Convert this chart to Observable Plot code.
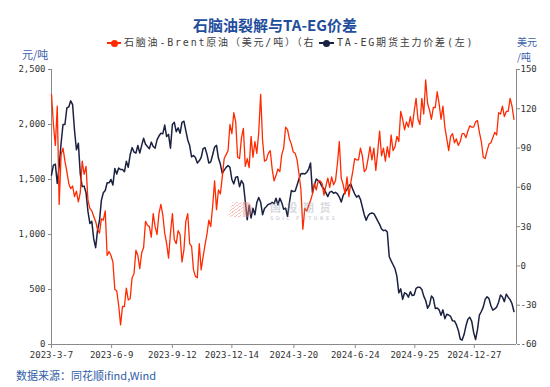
<!DOCTYPE html>
<html><head><meta charset="utf-8">
<script src="https://cdn.jsdelivr.net/npm/d3@7"></script>
<script src="https://cdn.jsdelivr.net/npm/@observablehq/plot@0.6"></script>
<style>
body{margin:0;background:#fff;}
#wrap{position:relative;width:550px;height:387px;overflow:hidden;font-family:"Noto Sans CJK SC","Noto Sans",sans-serif;background:#fff;}
#wrap svg{position:absolute;left:0;top:0;}
.abs{position:absolute;white-space:nowrap;line-height:1;}
</style></head><body><div id="wrap"></div>
<script>
// sampling dates (every 3 calendar days)
const dates = [
"2023-03-07","2023-03-10","2023-03-13","2023-03-16","2023-03-19","2023-03-22","2023-03-25","2023-03-28","2023-03-31",
"2023-04-03","2023-04-06","2023-04-09","2023-04-12","2023-04-15","2023-04-18","2023-04-21","2023-04-24","2023-04-27","2023-04-30",
"2023-05-03","2023-05-06","2023-05-09","2023-05-12","2023-05-15","2023-05-18","2023-05-21","2023-05-24","2023-05-27","2023-05-30",
"2023-06-02","2023-06-05","2023-06-08","2023-06-11","2023-06-14","2023-06-17","2023-06-20","2023-06-23","2023-06-26","2023-06-29",
"2023-07-02","2023-07-05","2023-07-08","2023-07-11","2023-07-14","2023-07-17","2023-07-20","2023-07-23","2023-07-26","2023-07-29",
"2023-08-01","2023-08-04","2023-08-07","2023-08-10","2023-08-13","2023-08-16","2023-08-19","2023-08-22","2023-08-25","2023-08-28","2023-08-31",
"2023-09-03","2023-09-06","2023-09-09","2023-09-12","2023-09-15","2023-09-18","2023-09-21","2023-09-24","2023-09-27","2023-09-30",
"2023-10-03","2023-10-06","2023-10-09","2023-10-12","2023-10-15","2023-10-18","2023-10-21","2023-10-24","2023-10-27","2023-10-30",
"2023-11-02","2023-11-05","2023-11-08","2023-11-11","2023-11-14","2023-11-17","2023-11-20","2023-11-23","2023-11-26","2023-11-29",
"2023-12-02","2023-12-05","2023-12-08","2023-12-11","2023-12-14","2023-12-17","2023-12-20","2023-12-23","2023-12-26","2023-12-29",
"2024-01-01","2024-01-04","2024-01-07","2024-01-10","2024-01-13","2024-01-16","2024-01-19","2024-01-22","2024-01-25","2024-01-28","2024-01-31",
"2024-02-03","2024-02-06","2024-02-09","2024-02-12","2024-02-15","2024-02-18","2024-02-21","2024-02-24","2024-02-27",
"2024-03-01","2024-03-04","2024-03-07","2024-03-10","2024-03-13","2024-03-16","2024-03-19","2024-03-22","2024-03-25","2024-03-28","2024-03-31",
"2024-04-03","2024-04-06","2024-04-09","2024-04-12","2024-04-15","2024-04-18","2024-04-21","2024-04-24","2024-04-27","2024-04-30",
"2024-05-03","2024-05-06","2024-05-09","2024-05-12","2024-05-15","2024-05-18","2024-05-21","2024-05-24","2024-05-27","2024-05-30",
"2024-06-02","2024-06-05","2024-06-08","2024-06-11","2024-06-14","2024-06-17","2024-06-20","2024-06-23","2024-06-26","2024-06-29",
"2024-07-02","2024-07-05","2024-07-08","2024-07-11","2024-07-14","2024-07-17","2024-07-20","2024-07-23","2024-07-26","2024-07-29",
"2024-08-01","2024-08-04","2024-08-07","2024-08-10","2024-08-13","2024-08-16","2024-08-19","2024-08-22","2024-08-25","2024-08-28","2024-08-31",
"2024-09-03","2024-09-06","2024-09-09","2024-09-12","2024-09-15","2024-09-18","2024-09-21","2024-09-24","2024-09-27","2024-09-30",
"2024-10-03","2024-10-06","2024-10-09","2024-10-12","2024-10-15","2024-10-18","2024-10-21","2024-10-24","2024-10-27","2024-10-30",
"2024-11-02","2024-11-05","2024-11-08","2024-11-11","2024-11-14","2024-11-17","2024-11-20","2024-11-23","2024-11-26","2024-11-29",
"2024-12-02","2024-12-05","2024-12-08","2024-12-11","2024-12-14","2024-12-17","2024-12-20","2024-12-23","2024-12-26","2024-12-29",
"2025-01-01","2025-01-04","2025-01-07","2025-01-10","2025-01-13","2025-01-16","2025-01-19","2025-01-22","2025-01-25","2025-01-28","2025-01-31",
"2025-02-03","2025-02-06","2025-02-09","2025-02-12","2025-02-15","2025-02-18","2025-02-21","2025-02-24","2025-02-27"
];

// TA-EG futures main-contract spread (元/吨, left axis)
const taegSpread = [
1540,1630,1640,1464,1620,1830,2000,2000,2150,2160,
2215,2180,1945,1770,1830,1550,1435,1440,1380,1210,
1100,1120,960,880,1040,1125,1310,1380,1400,1470,
1470,1500,1450,1600,1550,1605,1590,1590,1570,1665,
1612,1725,1790,1750,1740,1809,1740,1810,1875,1820,
1800,1780,1840,1800,1785,1860,1895,1920,1915,1995,
1890,1910,1785,2000,2020,1935,1970,1920,2020,2030,
1945,1860,1809,1705,1718,1700,1650,1670,1700,1780,
1790,1730,1650,1660,1725,1794,1810,1695,1640,1555,
1585,1610,1627,1610,1500,1460,1520,1525,1435,1490,
1460,1300,1135,1265,1150,1238,1180,1290,1337,1294,
1180,1237,1255,1274,1279,1292,1280,1330,1270,1330,
1290,1230,1240,1165,1290,1400,1390,1395,1450,1506,
1552,1555,1550,1565,1593,1650,1380,1450,1505,1490,
1470,1435,1415,1380,1345,1385,1392,1375,1383,1370,
1340,1295,1355,1385,1410,1443,1460,1410,1370,1340,
1355,1320,1250,1180,1130,1170,1190,1195,1190,1158,
1124,1092,1050,1035,1040,1023,800,760,725,690,
620,470,506,410,470,460,430,480,445,450,
510,521,520,500,440,400,330,360,440,420,
328,332,315,265,315,235,275,268,255,215,
214,180,130,50,40,90,170,230,248,210,
110,45,135,268,300,340,410,434,417,352,
312,324,340,385,450,432,390,458,430,408,
370,300
];

// Naphtha - Brent crack (美元/吨, right axis)
const naphthaSpread = [
131,108,92,122,47,85,90,80,72,63,
59,61,53,57,49,56,80,70,76,50,
44,42,38,34,28,25,36,35,42,8,
11,8,3,-18,-19,-30,-45,-31,-31,-17,
-26,-25,-9,-6,12,8,-2,10,14,34,
31,30,22,40,30,24,40,47,39,25,
17,6,25,40,20,17,27,24,3,12,
34,40,17,15,-3,-8,-9,17,-3,7,
16,24,35,30,46,65,43,58,55,68,
82,85,88,108,101,117,110,83,82,98,
105,76,82,75,99,83,95,86,102,131,
96,80,81,86,88,74,65,69,74,72,
85,90,106,104,97,93,87,86,81,70,
58,28,44,42,46,50,55,63,58,65,
65,63,54,61,67,60,68,62,65,78,
95,67,62,55,68,53,64,72,82,81,
81,90,84,72,74,82,91,81,90,73,
87,103,84,90,80,91,83,100,88,91,
99,95,118,112,104,110,106,114,106,118,
128,112,108,128,116,142,124,119,112,121,
121,133,124,112,122,106,97,88,99,101,
94,97,92,95,101,101,98,103,107,106,
106,110,111,102,95,83,82,88,93,94,
98,102,100,117,116,122,114,118,118,128,
122,112
];

const xTickLabels = ["2023-3-7","2023-6-9","2023-9-12","2023-12-14","2024-3-20","2024-6-24","2024-9-25","2024-12-27"];
const xDomain = ["2023-03-07","2025-03-03"];
const leftTicks = [0,500,1000,1500,2000,2500];
const rightTicks = [-60,-30,0,30,60,90,120,150];
const leftRange = [0,2500];
const rightRange = [-60,150];

const parse = d3.utcParse("%Y-%m-%d");
const toDate = s => { const [y,m,d] = s.split("-").map(Number); return new Date(Date.UTC(y,m-1,d)); };
const rows = dates.map((d,i) => ({date: parse(d), taeg: taegSpread[i], naph: naphthaSpread[i]}));
const toLeft = r => (r - rightRange[0]) / (rightRange[1] - rightRange[0]) * (leftRange[1] - leftRange[0]) + leftRange[0];
const toRight = v => (v - leftRange[0]) / (leftRange[1] - leftRange[0]) * (rightRange[1] - rightRange[0]) + rightRange[0];

const RED = "#FF2A00", NAVY = "#1B2140", AXIS = "#8a8a8a", TXT = "#333";

const chart = Plot.plot({
  width: 550, height: 387,
  marginLeft: 51, marginRight: 34, marginTop: 69, marginBottom: 43,
  style: {fontFamily: "'DejaVu Sans Mono', monospace", fontSize: "9px", background: "transparent", overflow: "visible"},
  x: {type: "utc", domain: xDomain.map(toDate), label: null},
  y: {domain: leftRange, label: null},
  marks: [
    Plot.axisY(leftTicks, {anchor: "left", tickSize: 3, tickPadding: 3, stroke: AXIS, fill: TXT, tickFormat: d3.format(",")}),
    Plot.axisY(rightTicks.map(toLeft), {anchor: "right", tickSize: 3, tickPadding: 1, stroke: AXIS, fill: TXT, textAnchor: "start", tickFormat: v => String(Math.round(toRight(v)))}),
    Plot.axisX(xTickLabels.map(toDate), {tickSize: 4, tickPadding: 3, stroke: AXIS, fill: TXT,
      tickFormat: d => `${d.getUTCFullYear()}-${d.getUTCMonth()+1}-${d.getUTCDate()}`}),
    Plot.ruleX(xDomain.map(toDate), {stroke: AXIS}),
    Plot.ruleY([0], {stroke: AXIS}),
    Plot.lineY(rows, {x: "date", y: "taeg", stroke: NAVY, strokeWidth: 1.5}),
    Plot.lineY(rows, {x: "date", y: d => toLeft(d.naph), stroke: RED, strokeWidth: 1.3})
  ]
});

const wrap = document.getElementById("wrap");
wrap.appendChild(chart);

function add(html, style) {
  const el = document.createElement("div");
  el.className = "abs";
  el.style.cssText = style;
  el.innerHTML = html;
  wrap.appendChild(el);
  return el;
}
// watermark
add("", "left:230px;top:202px;width:13px;height:15px;background:repeating-linear-gradient(135deg,rgba(240,120,110,.45) 0 1px,transparent 1px 3px);transform:skewX(-20deg);");
add("", "left:243px;top:202px;width:9px;height:15px;background:rgba(240,140,130,.45);border-radius:0 60% 60% 0;");
add("国投期货", "left:270px;top:206.5px;transform:translateY(-50%);font-size:11px;font-weight:bold;color:rgba(150,155,168,.4);letter-spacing:5.5px;");
add("SDIC FUTURES", "left:270px;top:218.2px;transform:translateY(-50%);font-size:5px;font-weight:bold;color:rgba(150,155,168,.4);letter-spacing:2.2px;font-family:'DejaVu Sans';");

// title
add("石脑油裂解与TA-EG价差", "left:275px;top:23.5px;transform:translate(-50%,-50%);font-size:15px;font-weight:bold;color:#1F4E9C;");
// legend
const legFont = "font-family:'DejaVu Sans Mono','Noto Sans CJK SC',monospace;font-size:10px;letter-spacing:1.8px;color:#404040;";
add("", `left:107px;top:42.3px;width:14px;height:1.5px;background:${RED};`);
add("", `left:110.5px;top:39.5px;width:7px;height:7px;border-radius:50%;background:${RED};`);
add("石脑油-Brent原油（美元/吨）（右", `left:124px;top:43px;transform:translateY(-50%);${legFont}`);
add("", `left:319px;top:42.3px;width:15px;height:1.5px;background:${NAVY};`);
add("", `left:322.5px;top:39.5px;width:7px;height:7px;border-radius:50%;background:${NAVY};`);
add("TA-EG期货主力价差(左)", `left:337px;top:43px;transform:translateY(-50%);${legFont}`);
// units
add("元/吨", "left:22px;top:54px;transform:translateY(-50%);font-size:11px;color:#3A5EA8;");
add("美元", "left:517px;top:42px;transform:translateY(-50%);font-size:10px;color:#3A5EA8;");
add("/吨", "left:517px;top:56.8px;transform:translateY(-50%);font-size:10px;color:#3A5EA8;");
// source
add("数据来源：同花顺ifind,Wind", "left:16px;top:374.5px;transform:translateY(-50%);font-size:11px;color:#2F5DA8;");
</script></body></html>
